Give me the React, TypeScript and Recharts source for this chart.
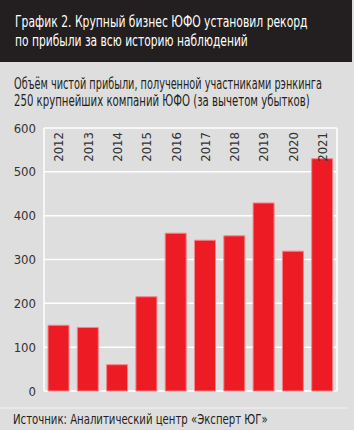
import React, { useLayoutEffect, useRef, useState } from "react";
import { BarChart, Bar, XAxis, YAxis, CartesianGrid } from "recharts";

const years = ["2012", "2013", "2014", "2015", "2016", "2017", "2018", "2019", "2020", "2021"];
const profits = [150, 145, 60, 215, 360, 344, 354, 429, 319, 530];
const yTicks = [0, 100, 200, 300, 400, 500, 600];

const titleLines = [
  "График 2. Крупный бизнес ЮФО установил рекорд",
  "по прибыли за всю историю наблюдений",
];
const subtitleLines = [
  "Объём чистой прибыли, полученной участниками рэнкинга",
  "250 крупнейших компаний ЮФО (за вычетом убытков)",
];
const sourceText = "Источник: Аналитический центр «Эксперт ЮГ»";

const data = years.map((y, i) => ({ year: y, value: profits[i] }));

const FONT = "'Liberation Sans Narrow', 'DejaVu Sans Condensed', 'Arial Narrow', sans-serif";

const FitText = (props: { x: number; y: number; w: number; size: number; fill: string; children: string }) => {
  const ref = useRef<SVGTextElement>(null);
  const [sx, setSx] = useState(1);
  useLayoutEffect(() => {
    if (ref.current) {
      const natural = ref.current.getBBox().width;
      if (natural > 0) setSx(props.w / natural);
    }
  }, [props.w, props.children]);
  return (
    <text
      ref={ref}
      x={0}
      y={0}
      transform={`translate(${props.x} ${props.y}) scale(${sx} 1)`}
      fill={props.fill}
      fontFamily={FONT}
      fontSize={props.size}
    >
      {props.children}
    </text>
  );
};

const YearTick = (props: any) => {
  const { x, y, payload } = props;
  const ty = y + 4;
  return (
    <text
      x={x}
      y={ty}
      dy="0.36em"
      transform={`rotate(-90 ${x} ${ty})`}
      textAnchor="end"
      fontFamily={FONT}
      fontSize={13}
      fill="#333"
    >
      {payload.value}
    </text>
  );
};

export default function App() {
  return (
    <div style={{ position: "absolute", left: 0, top: 0, width: 354, height: 430, overflow: "hidden" }}>
      <svg width={354} height={430} style={{ position: "absolute", left: 0, top: 0 }}>
        <rect x={0} y={0} width={354} height={430} fill="#dedede" />
        <rect x={0} y={0} width={352} height={62} fill="#231f20" />
        <line x1={0} y1={408} x2={348} y2={408} stroke="#f2f2f2" strokeWidth={1.2} />
        <FitText x={15} y={27} w={293} size={16.5} fill="#fff">{titleLines[0]}</FitText>
        <FitText x={15} y={46} w={233} size={16.5} fill="#fff">{titleLines[1]}</FitText>
        <FitText x={14} y={89} w={308} size={15.5} fill="#231f20">{subtitleLines[0]}</FitText>
        <FitText x={14} y={106} w={296} size={15.5} fill="#231f20">{subtitleLines[1]}</FitText>
        <FitText x={13} y={424} w={255} size={14} fill="#231f20">{sourceText}</FitText>
      </svg>
      <div style={{ position: "absolute", left: 0, top: 0 }}>
        <BarChart
          width={354}
          height={430}
          data={data}
          margin={{ top: 98, right: 17, bottom: 39, left: 0 }}
        >
          <CartesianGrid
            stroke="#ffffff"
            strokeWidth={1.5}
            verticalCoordinatesGenerator={(p: any) => [p.offset.left, p.offset.left + p.offset.width]}
          />
          <YAxis
            width={44}
            domain={[0, 600]}
            ticks={yTicks}
            axisLine={false}
            tickLine={false}
            tick={{ fill: "#333", fontSize: 13, fontFamily: FONT }}
          />
          <Bar
            dataKey="value"
            fill="#ed1c24"
            stroke="#f5858a"
            strokeWidth={1}
            barSize={21}
            isAnimationActive={false}
          />
          <XAxis
            dataKey="year"
            orientation="top"
            height={30}
            axisLine={false}
            tickLine={false}
            tickSize={0}
            tickMargin={0}
            interval={0}
            tick={(p: any) => <YearTick {...p} />}
          />
        </BarChart>
      </div>
    </div>
  );
}
